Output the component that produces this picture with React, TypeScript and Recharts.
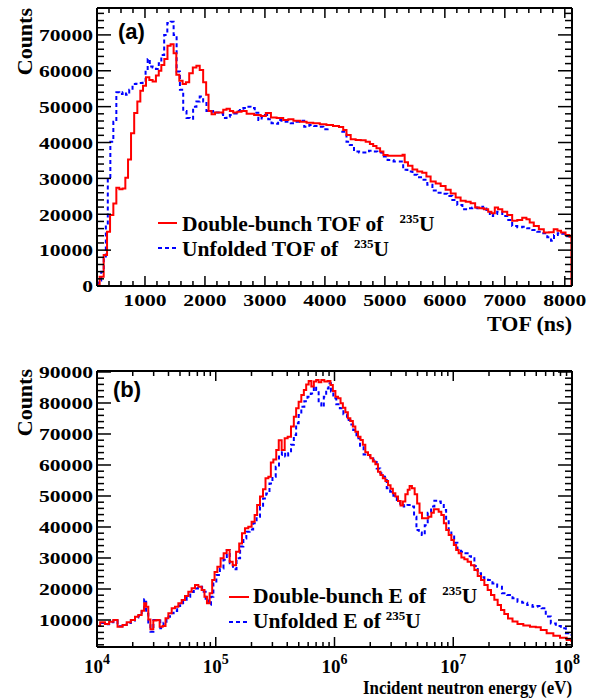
import React from 'react';
import { LineChart, Line, XAxis, YAxis } from 'recharts';

// (a) TOF spectra of 235U, bin centres in ns
const tofRedNs = [210, 278, 345, 390, 445, 500, 545, 600, 650, 695, 740, 795, 845, 900, 945, 990, 1045, 1100, 1155, 1210, 1250, 1295, 1350, 1400, 1455, 1500, 1545, 1600, 1655, 1710, 1765, 1830, 1885, 1940, 2000, 2040, 2080, 2140, 2195, 2280, 2330, 2390, 2440, 2500, 2580, 2640, 2750, 2890, 2970, 3060, 3140, 3250, 3360, 3420, 3530, 3640, 3750, 3860, 3970, 4080, 4190, 4280, 4330, 4390, 4470, 4555, 4640, 4720, 4780, 4830, 4890, 4950, 5000, 5090, 5200, 5280, 5310, 5350, 5420, 5500, 5580, 5665, 5720, 5805, 5890, 5970, 6055, 6140, 6220, 6305, 6390, 6470, 6540, 6610, 6695, 6750, 6805, 6860, 6915, 7000, 7080, 7165, 7250, 7330, 7390, 7440, 7525, 7610, 7690, 7780, 7850, 7905, 7970, 8055, 8100, 8120];
const tofRedCounts = [300, 2600, 8650, 15100, 19800, 23000, 27400, 27000, 27200, 30200, 35300, 42600, 48200, 51400, 54400, 55800, 58200, 57400, 57000, 58700, 60000, 61600, 63300, 67000, 67400, 64900, 58900, 57200, 56300, 56800, 59300, 60900, 61400, 60200, 56800, 53300, 48800, 47900, 48400, 48400, 49100, 49400, 48800, 48400, 48600, 48800, 48000, 47700, 47400, 48200, 47000, 46800, 46300, 46500, 46100, 45800, 45500, 45400, 45100, 44900, 44600, 44300, 43500, 42100, 40900, 40700, 40600, 40200, 39600, 39000, 38400, 37500, 36500, 36300, 36300, 36300, 36600, 34500, 33500, 32500, 31900, 31600, 30500, 29100, 28600, 27900, 26800, 25800, 24700, 23800, 23500, 23100, 21900, 21700, 21400, 20700, 20300, 21900, 21400, 20700, 19800, 18200, 18400, 19000, 18600, 17700, 16700, 15800, 14900, 15000, 15800, 15400, 14900, 14200, 13700, 0];
const tofBlueNs = [210, 250, 290, 335, 360, 400, 445, 500, 545, 600, 655, 710, 765, 820, 875, 930, 990, 1030, 1060, 1100, 1155, 1210, 1250, 1295, 1345, 1400, 1455, 1500, 1555, 1610, 1665, 1720, 1775, 1830, 1885, 1940, 2000, 2050, 2110, 2165, 2220, 2275, 2330, 2390, 2440, 2500, 2555, 2610, 2670, 2720, 2800, 2860, 2920, 2970, 3030, 3080, 3140, 3190, 3250, 3300, 3390, 3470, 3530, 3610, 3700, 3780, 3860, 3940, 4010, 4080, 4160, 4250, 4330, 4390, 4440, 4530, 4610, 4690, 4780, 4830, 4920, 5000, 5090, 5200, 5280, 5330, 5420, 5500, 5580, 5665, 5750, 5835, 5920, 6000, 6085, 6165, 6250, 6335, 6415, 6500, 6585, 6665, 6720, 6780, 6830, 6915, 7000, 7080, 7165, 7250, 7330, 7415, 7500, 7580, 7665, 7750, 7790, 7850, 7915, 8000, 8080];
const tofBlueCounts = [500, 1500, 4000, 7700, 17000, 30000, 40200, 45800, 54000, 53500, 54000, 53300, 54700, 56300, 56400, 56600, 57200, 60200, 63300, 61200, 60900, 60500, 62100, 64400, 70000, 73300, 73700, 70000, 59800, 54700, 48800, 46800, 46600, 50000, 51400, 52800, 51400, 48800, 48600, 48800, 48400, 48100, 46800, 47200, 47700, 48100, 48800, 49400, 49600, 50000, 49600, 48300, 46300, 47200, 47700, 46500, 45400, 45200, 46300, 46100, 45800, 45400, 45800, 46100, 44400, 44900, 44600, 44400, 43700, 44900, 44600, 44300, 43000, 40200, 39300, 37500, 37200, 37200, 37700, 37500, 37200, 36100, 35100, 34700, 34700, 32400, 31900, 31000, 30300, 29600, 28200, 26600, 26000, 25700, 25100, 24000, 22600, 21400, 21700, 21900, 21700, 22100, 21200, 19500, 20100, 20700, 19500, 18400, 16700, 16400, 16500, 16100, 15600, 15100, 14700, 13600, 12600, 14200, 14700, 14600, 13900];

// (b) energy spectra, bin centres as log10(E / eV)
const eRedLog = [4.0, 4.053, 4.08, 4.124, 4.152, 4.194, 4.236, 4.264, 4.306, 4.334, 4.362, 4.39, 4.404, 4.424, 4.44, 4.46, 4.488, 4.516, 4.539, 4.567, 4.587, 4.615, 4.643, 4.671, 4.699, 4.727, 4.755, 4.783, 4.811, 4.84, 4.867, 4.895, 4.915, 4.937, 4.96, 4.98, 5.0, 5.027, 5.055, 5.078, 5.106, 5.128, 5.157, 5.185, 5.21, 5.232, 5.26, 5.288, 5.316, 5.339, 5.358, 5.387, 5.409, 5.429, 5.457, 5.471, 5.499, 5.52, 5.541, 5.569, 5.592, 5.619, 5.648, 5.667, 5.687, 5.709, 5.732, 5.752, 5.771, 5.794, 5.816, 5.836, 5.855, 5.878, 5.9, 5.928, 5.956, 5.976, 5.996, 6.019, 6.041, 6.061, 6.08, 6.103, 6.122, 6.145, 6.164, 6.187, 6.209, 6.229, 6.248, 6.271, 6.293, 6.313, 6.333, 6.355, 6.377, 6.397, 6.417, 6.44, 6.462, 6.482, 6.501, 6.524, 6.546, 6.566, 6.585, 6.608, 6.625, 6.64, 6.664, 6.686, 6.706, 6.726, 6.748, 6.776, 6.804, 6.827, 6.846, 6.866, 6.888, 6.911, 6.931, 6.95, 6.973, 6.995, 7.015, 7.034, 7.057, 7.08, 7.107, 7.135, 7.164, 7.192, 7.22, 7.248, 7.276, 7.304, 7.332, 7.36, 7.388, 7.416, 7.444, 7.478, 7.52, 7.562, 7.618, 7.674, 7.716, 7.758, 7.815, 7.871, 7.927, 7.983, 8.0];
const eRedCounts = [8060, 9260, 8700, 9450, 10000, 7850, 8390, 9260, 10000, 11070, 11600, 13000, 15380, 14300, 10200, 7000, 9800, 10000, 7850, 8060, 10540, 12150, 13770, 14300, 15380, 16450, 17740, 19130, 20220, 21290, 20750, 19680, 17520, 15380, 18600, 22900, 25500, 27200, 29900, 31500, 32600, 28800, 27700, 32000, 34700, 37970, 39600, 40100, 41700, 43900, 47100, 49800, 52200, 55700, 56200, 60800, 61800, 64800, 68000, 64800, 68600, 69100, 72400, 75600, 78300, 80400, 82600, 84200, 86000, 87100, 85300, 86900, 87400, 86700, 87400, 86900, 87100, 85800, 83900, 82000, 81500, 79900, 78500, 77000, 75100, 74200, 72400, 70700, 69100, 68100, 66500, 64100, 63200, 62200, 61100, 60200, 57800, 56800, 55700, 54800, 53500, 52300, 50900, 49800, 48400, 46900, 48200, 50600, 52000, 53200, 52500, 50600, 47600, 44600, 42800, 42800, 43300, 44600, 45700, 45700, 44900, 43900, 41200, 39000, 37400, 35800, 34200, 32600, 31500, 30200, 29600, 28800, 27700, 26100, 24200, 22900, 21300, 19700, 18100, 16500, 14800, 13200, 11900, 10500, 9500, 8700, 8200, 7850, 7640, 6770, 5700, 4930, 4290, 3550, 3300];
const eBlueLog = [4.0, 4.053, 4.08, 4.124, 4.152, 4.194, 4.236, 4.264, 4.306, 4.334, 4.362, 4.39, 4.404, 4.424, 4.44, 4.46, 4.49, 4.516, 4.55, 4.57, 4.6, 4.63, 4.66, 4.69, 4.71, 4.74, 4.77, 4.8, 4.83, 4.87, 4.9, 4.93, 4.95, 4.97, 4.99, 5.02, 5.05, 5.08, 5.106, 5.13, 5.16, 5.19, 5.22, 5.245, 5.27, 5.3, 5.33, 5.358, 5.387, 5.41, 5.44, 5.465, 5.49, 5.52, 5.545, 5.569, 5.6, 5.62, 5.648, 5.667, 5.687, 5.709, 5.732, 5.76, 5.785, 5.816, 5.836, 5.855, 5.878, 5.9, 5.92, 5.94, 5.96, 5.98, 6.0, 6.03, 6.06, 6.09, 6.12, 6.145, 6.17, 6.2, 6.23, 6.26, 6.285, 6.313, 6.34, 6.37, 6.4, 6.425, 6.455, 6.482, 6.51, 6.54, 6.566, 6.6, 6.63, 6.66, 6.68, 6.7, 6.72, 6.75, 6.77, 6.8, 6.827, 6.855, 6.88, 6.91, 6.93, 6.95, 6.973, 6.995, 7.02, 7.05, 7.08, 7.107, 7.135, 7.164, 7.192, 7.22, 7.248, 7.276, 7.31, 7.35, 7.39, 7.43, 7.478, 7.52, 7.562, 7.6, 7.646, 7.688, 7.73, 7.758, 7.8, 7.843, 7.885, 7.927, 7.97, 8.0];
const eBlueCounts = [8060, 9000, 8600, 9300, 9800, 8000, 8400, 9000, 9800, 10800, 11400, 13500, 16700, 12000, 8700, 6230, 10000, 9800, 7320, 9100, 11070, 12200, 12900, 14500, 15380, 16500, 17500, 19000, 20200, 20700, 19100, 16500, 14900, 17500, 21800, 24500, 26600, 29400, 32600, 28300, 26400, 29900, 33700, 36300, 38500, 39200, 41200, 43300, 46500, 49200, 50800, 54000, 56200, 59400, 63200, 64100, 62700, 63800, 66500, 69700, 73500, 76100, 78800, 80600, 82000, 83100, 85300, 84200, 79900, 78800, 82000, 84700, 86400, 83700, 81500, 79600, 78300, 76400, 74500, 73100, 71300, 68600, 66200, 63400, 63200, 62700, 61600, 58900, 57300, 56200, 52500, 51400, 50100, 48700, 47500, 46600, 47100, 46600, 43300, 39000, 38200, 37400, 40600, 44600, 46600, 48500, 48200, 47100, 45500, 42300, 39000, 36900, 34900, 32800, 32000, 31500, 30600, 29900, 27400, 25100, 23800, 23400, 22900, 21800, 20700, 18600, 18100, 17000, 15900, 15600, 14800, 14300, 14500, 13800, 11100, 8900, 8060, 7300, 5700, 5160];

// tick positions
const tofMajor = [1000, 2000, 3000, 4000, 5000, 6000, 7000, 8000];
const countsMajorA = [0, 10000, 20000, 30000, 40000, 50000, 60000, 70000];
const countsMajorB = [10000, 20000, 30000, 40000, 50000, 60000, 70000, 80000, 90000];
const energyMajor = [1e4, 1e5, 1e6, 1e7, 1e8];

const tofTicks: number[] = [];
for (let t = 200; t <= 8000; t += 200) tofTicks.push(t);
const countTicksA: number[] = [];
for (let c = 0; c <= 76000; c += 2000) countTicksA.push(c);
const countTicksB: number[] = [];
for (let c = 2000; c <= 90000; c += 2000) countTicksB.push(c);
const energyTicks: number[] = [];
for (let d = 4; d < 8; d++) for (let m = 1; m <= 9; m++) energyTicks.push(m * Math.pow(10, d));
energyTicks.push(1e8);

const zip = (xs: number[], ys: number[]) => xs.map((x, i) => ({ x, y: ys[i] }));
const tofRed = zip(tofRedNs, tofRedCounts);
const tofBlue = zip(tofBlueNs, tofBlueCounts);
const eRed = zip(eRedLog.map((l) => Math.pow(10, l)), eRedCounts);
const eBlue = zip(eBlueLog.map((l) => Math.pow(10, l)), eBlueCounts);

const serif = '"Liberation Serif", "Times New Roman", serif';
const sans = '"Liberation Sans", Arial, sans-serif';
const axisLine = { stroke: '#000', strokeWidth: 2 };

type Side = 'bottom' | 'top' | 'left' | 'right';

const isIn = (list: number[], v: number) => list.some((m) => Math.abs(m - v) <= 1e-6 * Math.max(1, Math.abs(m)));

function makeTick(side: Side, majors: number[], majorLen: number, minorLen: number, label?: (v: number, x: number, y: number) => React.ReactNode) {
  return (props: any) => {
    const { x, y, payload } = props;
    const v = payload.value;
    const major = isIn(majors, v);
    const len = major ? majorLen : minorLen;
    const dx = side === 'left' ? len : side === 'right' ? -len : 0;
    const dy = side === 'bottom' ? -len : side === 'top' ? len : 0;
    return (
      <g>
        <line x1={x} y1={y} x2={x + dx} y2={y + dy} stroke="#000" strokeWidth={1.5} />
        {major && label ? label(v, x, y) : null}
      </g>
    );
  };
}

const yLabel = (v: number, x: number, y: number) => {
  const s = String(v);
  return (
    <text x={x - 4} y={y} dy="0.36em" textAnchor="end" fontFamily={serif} fontWeight="bold" fontSize={17.5}
      textLength={s.length * 10.8} lengthAdjust="spacingAndGlyphs">{s}</text>
  );
};

const xLabel = (v: number, x: number, y: number) => {
  const s = String(v);
  return (
    <text x={x} y={y + 20} textAnchor="middle" fontFamily={serif} fontWeight="bold" fontSize={17.5}
      textLength={s.length * 10.8} lengthAdjust="spacingAndGlyphs">{s}</text>
  );
};

const logLabel = (v: number, x: number, y: number) => {
  const exp = Math.round(Math.log10(v));
  const shift = exp === 8 ? -5 : 0;
  return (
    <text x={x + shift} y={y + 26} textAnchor="middle" fontFamily={serif} fontWeight="bold" fontSize={19}>
      10<tspan dy={-9} fontSize={14}>{exp}</tspan>
    </text>
  );
};

const PanelA = () => (
  <LineChart width={598} height={350} margin={{ top: 0, right: 0, bottom: 0, left: 0 }}>
    <XAxis xAxisId="b" dataKey="x" type="number" domain={[200, 8120]} allowDataOverflow height={64}
      ticks={tofTicks} interval={0} tickSize={0} tickMargin={0} tickLine={false} axisLine={axisLine}
      tick={makeTick('bottom', tofMajor, 10, 5, xLabel)} />
    <XAxis xAxisId="t" orientation="top" dataKey="x" type="number" domain={[200, 8120]} allowDataOverflow height={8}
      ticks={tofTicks} interval={0} tickSize={0} tickMargin={0} tickLine={false} axisLine={axisLine}
      tick={makeTick('top', tofMajor, 10, 5)} />
    <YAxis yAxisId="l" type="number" domain={[0, 77500]} allowDataOverflow width={97}
      ticks={countTicksA} interval={0} tickSize={0} tickMargin={0} tickLine={false} axisLine={axisLine}
      tick={makeTick('left', countsMajorA, 14, 7, yLabel)} />
    <YAxis yAxisId="r" orientation="right" type="number" domain={[0, 77500]} allowDataOverflow width={26}
      ticks={countTicksA} interval={0} tickSize={0} tickMargin={0} tickLine={false} axisLine={axisLine}
      tick={makeTick('right', countsMajorA, 14, 7)} />
    <Line xAxisId="b" yAxisId="l" data={tofBlue} dataKey="y" type="step" stroke="#0000ff" strokeWidth={2}
      strokeDasharray="4 3" dot={false} isAnimationActive={false} />
    <Line xAxisId="b" yAxisId="l" data={tofRed} dataKey="y" type="step" stroke="#ff0000" strokeWidth={2}
      dot={false} isAnimationActive={false} />
  </LineChart>
);

const PanelB = () => (
  <LineChart width={598} height={350} margin={{ top: 0, right: 0, bottom: 0, left: 0 }}>
    <XAxis xAxisId="b" dataKey="x" type="number" scale="log" domain={[1e4, 1e8]} allowDataOverflow height={53}
      ticks={energyTicks} interval={0} tickSize={0} tickMargin={0} tickLine={false} axisLine={axisLine}
      tick={makeTick('bottom', energyMajor, 10, 5, logLabel)} />
    <XAxis xAxisId="t" orientation="top" dataKey="x" type="number" scale="log" domain={[1e4, 1e8]} allowDataOverflow height={21}
      ticks={energyTicks} interval={0} tickSize={0} tickMargin={0} tickLine={false} axisLine={axisLine}
      tick={makeTick('top', energyMajor, 10, 5)} />
    <YAxis yAxisId="l" type="number" domain={[1290, 90320]} allowDataOverflow width={97}
      ticks={countTicksB} interval={0} tickSize={0} tickMargin={0} tickLine={false} axisLine={axisLine}
      tick={makeTick('left', countsMajorB, 14, 7, yLabel)} />
    <YAxis yAxisId="r" orientation="right" type="number" domain={[1290, 90320]} allowDataOverflow width={26}
      ticks={countTicksB} interval={0} tickSize={0} tickMargin={0} tickLine={false} axisLine={axisLine}
      tick={makeTick('right', countsMajorB, 14, 7)} />
    <Line xAxisId="b" yAxisId="l" data={eBlue} dataKey="y" type="step" stroke="#0000ff" strokeWidth={2}
      strokeDasharray="4 3" dot={false} isAnimationActive={false} />
    <Line xAxisId="b" yAxisId="l" data={eRed} dataKey="y" type="step" stroke="#ff0000" strokeWidth={2}
      dot={false} isAnimationActive={false} />
  </LineChart>
);

const bold = { fontFamily: serif, fontWeight: 'bold' as const };

const Labels = () => (
  <svg width={598} height={700} style={{ position: 'absolute', left: 0, top: 0, pointerEvents: 'none' }}>
    {/* panel (a) */}
    <text transform="translate(32,8) rotate(-90)" textAnchor="end" fontSize={22} {...bold}>Counts</text>
    <text x={118} y={39} fontFamily={sans} fontWeight="bold" fontSize={22}>(a)</text>
    <text x={572} y={331} textAnchor="end" fontSize={22} {...bold}>TOF (ns)</text>
    <line x1={158} y1={223} x2={177} y2={223} stroke="#ff0000" strokeWidth={2} />
    <text x={182} y={231} fontSize={21.5} {...bold}>
      Double-bunch TOF of
      <tspan dx={16} dy={-8} fontSize={13}>235</tspan>
      <tspan dy={8} fontSize={21.5}>U</tspan>
    </text>
    <line x1={158} y1={248} x2={177} y2={248} stroke="#0000ff" strokeWidth={2} strokeDasharray="4 3" />
    <text x={182} y={256} fontSize={21.5} {...bold}>
      Unfolded TOF of
      <tspan dx={16} dy={-8} fontSize={13}>235</tspan>
      <tspan dy={8} fontSize={21.5}>U</tspan>
    </text>

    {/* panel (b) */}
    <text transform="translate(32,369) rotate(-90)" textAnchor="end" fontSize={22} {...bold}>Counts</text>
    <text x={113} y={397} fontFamily={sans} fontWeight="bold" fontSize={22}>(b)</text>
    <text x={572} y={694} textAnchor="end" fontSize={19} {...bold} textLength={209} lengthAdjust="spacingAndGlyphs">
      Incident neutron energy (eV)
    </text>
    <line x1={229} y1={597} x2={249} y2={597} stroke="#ff0000" strokeWidth={2} />
    <text x={253} y={603} fontSize={21.5} {...bold}>
      Double-bunch E of
      <tspan dx={16} dy={-8} fontSize={13}>235</tspan>
      <tspan dy={8} fontSize={21.5}>U</tspan>
    </text>
    <line x1={229} y1={622} x2={249} y2={622} stroke="#0000ff" strokeWidth={2} strokeDasharray="4 3" />
    <text x={253} y={628} fontSize={21.5} {...bold}>
      Unfolded E of
      <tspan dx={5} dy={-8} fontSize={13}>235</tspan>
      <tspan dy={8} fontSize={21.5}>U</tspan>
    </text>
  </svg>
);

export default function App() {
  return (
    <div style={{ position: 'absolute', left: 0, top: 0, width: 598, height: 700, background: '#fff' }}>
      <div style={{ position: 'absolute', left: 0, top: 0 }}>
        <PanelA />
      </div>
      <div style={{ position: 'absolute', left: 0, top: 350 }}>
        <PanelB />
      </div>
      <Labels />
    </div>
  );
}
